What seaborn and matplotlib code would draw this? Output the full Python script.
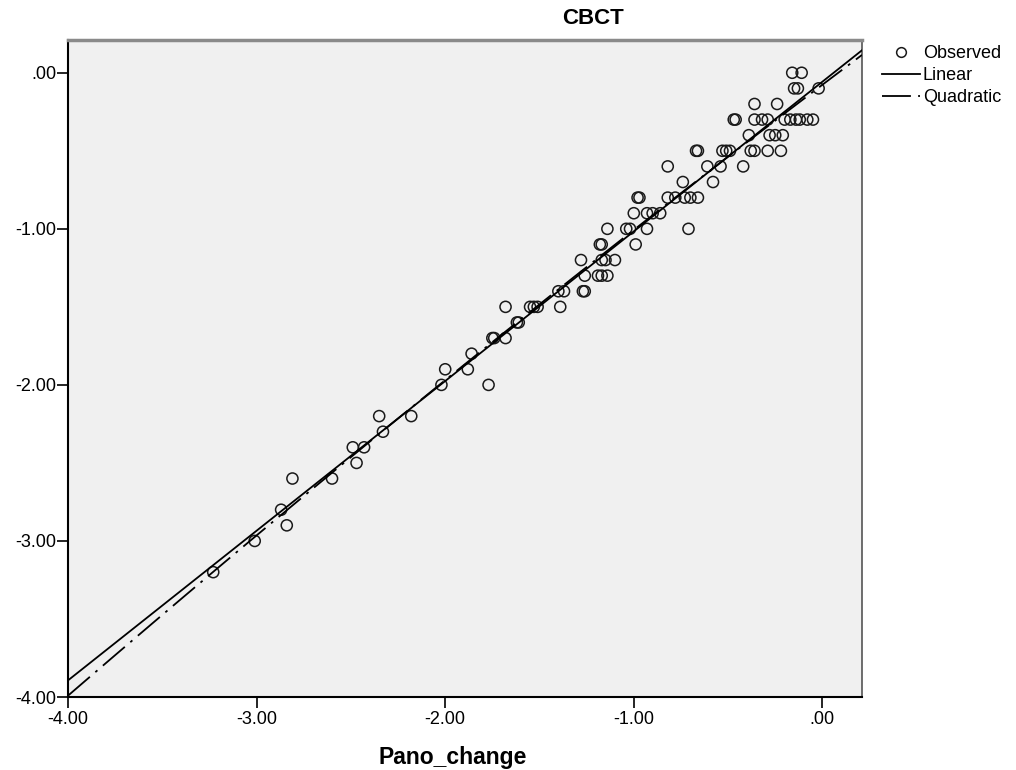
import numpy as np
import pandas as pd
import seaborn as sns
import matplotlib.pyplot as plt
from matplotlib.lines import Line2D

# observed points (one row = one CBCT value)
pano_change = [
    -0.16, -0.11,
    -0.15, -0.13, -0.02,
    -0.36, -0.24,
    -0.47, -0.46, -0.36, -0.32, -0.29, -0.20, -0.17, -0.14, -0.12, -0.08, -0.05,
    -0.39, -0.28, -0.25, -0.21,
    -0.67, -0.66, -0.53, -0.51, -0.49, -0.38, -0.36, -0.29, -0.22,
    -0.82, -0.61, -0.54, -0.42,
    -0.74, -0.58,
    -0.98, -0.97, -0.82, -0.78, -0.73, -0.70, -0.66,
    -1.00, -0.93, -0.90, -0.86,
    -1.14, -1.04, -1.02, -0.93, -0.71,
    -1.18, -1.17, -0.99,
    -1.28, -1.17, -1.15, -1.10,
    -1.26, -1.19, -1.17, -1.14,
    -1.40, -1.37, -1.27, -1.26,
    -1.68, -1.55, -1.53, -1.51, -1.39,
    -1.62, -1.61,
    -1.75, -1.74, -1.68,
    -1.86,
    -2.00, -1.88,
    -2.02, -1.77,
    -2.35, -2.18,
    -2.33,
    -2.49, -2.43,
    -2.47,
    -2.81, -2.60,
    -2.87,
    -2.84,
    -3.01,
    -3.23,
]
cbct = (
    [0.0] * 2 + [-0.1] * 3 + [-0.2] * 2 + [-0.3] * 11 + [-0.4] * 4
    + [-0.5] * 9 + [-0.6] * 4 + [-0.7] * 2 + [-0.8] * 7 + [-0.9] * 4
    + [-1.0] * 5 + [-1.1] * 3 + [-1.2] * 4 + [-1.3] * 4 + [-1.4] * 4
    + [-1.5] * 5 + [-1.6] * 2 + [-1.7] * 3 + [-1.8] * 1 + [-1.9] * 2
    + [-2.0] * 2 + [-2.2] * 2 + [-2.3] * 1 + [-2.4] * 2 + [-2.5] * 1
    + [-2.6] * 2 + [-2.8] * 1 + [-2.9] * 1 + [-3.0] * 1 + [-3.2] * 1
)
ticks = [-4.0, -3.0, -2.0, -1.0, 0.0]
tick_labels = ['-4.00', '-3.00', '-2.00', '-1.00', '.00']

df = pd.DataFrame({'Pano_change': pano_change, 'CBCT': cbct})

plt.rcParams['font.family'] = ['Liberation Sans', 'DejaVu Sans']

fig = plt.figure(figsize=(10.16, 7.70), dpi=100)
ax = fig.add_axes([68 / 1016, 1 - 697 / 770, (862 - 68) / 1016, (697 - 40) / 770])
ax.set_facecolor('#f0f0f0')
ax.set_xlim(-4.0, 0.21)
ax.set_ylim(-4.0, 0.21)

quad_dash = (16, 4, 1.5, 4)

# observed
sns.scatterplot(data=df, x='Pano_change', y='CBCT', ax=ax, s=64,
                facecolor='none', edgecolor='#1a1a1a', linewidth=1.1, zorder=3)

# linear and quadratic fits over the full axis range
sns.regplot(data=df, x='Pano_change', y='CBCT', ax=ax, scatter=False,
            ci=None, order=1, truncate=False,
            line_kws={'color': 'black', 'lw': 1.3, 'zorder': 4})
sns.regplot(data=df, x='Pano_change', y='CBCT', ax=ax, scatter=False,
            ci=None, order=2, truncate=False,
            line_kws={'color': 'black', 'lw': 1.3, 'zorder': 4,
                      'dashes': quad_dash})

ax.set_xlim(-4.0, 0.21)
ax.set_ylim(-4.0, 0.21)
ax.set_xticks(ticks)
ax.set_xticklabels(tick_labels)
ax.set_yticks(ticks)
ax.set_yticklabels(tick_labels)
ax.tick_params(direction='out', length=8, width=1.2, labelsize=13,
               colors='black')
ax.tick_params(axis='x', pad=2)
ax.tick_params(axis='y', pad=0.5)
ax.set_xlabel('')
ax.set_ylabel('')

for side in ['left', 'bottom']:
    ax.spines[side].set_color('black')
    ax.spines[side].set_linewidth(1.5)
ax.spines['top'].set_color('#8a8a8a')
ax.spines['top'].set_linewidth(2.5)
ax.spines['right'].set_color('#555555')
ax.spines['right'].set_linewidth(1.2)

fig.text(593 / 1016, 1 - 18 / 770, 'CBCT', ha='center', va='center',
         fontsize=16, fontweight='bold')
fig.text(378 / 1016, 1 - 764 / 770, 'Pano_change', ha='left', va='baseline',
         fontsize=16.5, fontweight='bold')

handles = [
    Line2D([], [], ls='none', marker='o', mfc='none', mec='#1a1a1a', ms=7, mew=1.1),
    Line2D([], [], color='black', lw=1.3),
    Line2D([], [], color='black', lw=1.3, dashes=quad_dash),
]
fig.legend(handles, ['Observed', 'Linear', 'Quadratic'],
           loc='upper left', bbox_to_anchor=(882 / 1016, 1 - 45 / 770),
           frameon=False, fontsize=13, handlelength=2.1, handletextpad=0.15,
           labelspacing=0.28, borderaxespad=0, borderpad=0)

fig.savefig('out.png', dpi=100, facecolor='white')
